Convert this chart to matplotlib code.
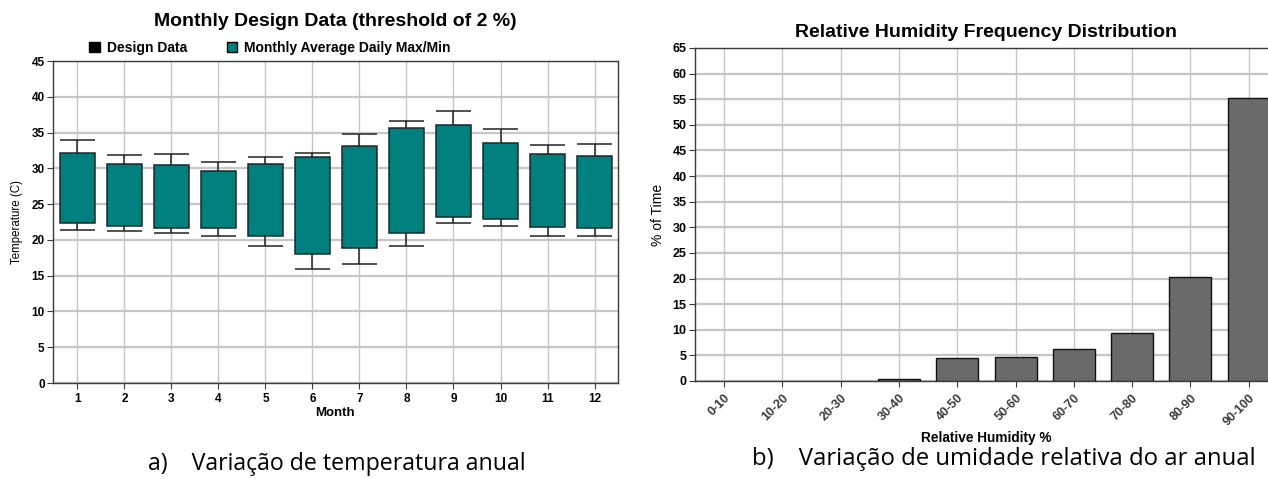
import matplotlib.pyplot as plt
from matplotlib.patches import Patch

plt.rcParams['font.family'] = ['Liberation Sans', 'DejaVu Sans']

# a) monthly temperature
months = [1, 2, 3, 4, 5, 6, 7, 8, 9, 10, 11, 12]
avg_max = [32.1, 30.6, 30.4, 29.6, 30.6, 31.6, 33.1, 35.7, 36.0, 33.5, 32.0, 31.7]
avg_min = [22.4, 22.0, 21.6, 21.7, 20.5, 18.0, 18.85, 21.0, 23.2, 22.95, 21.8, 21.7]
design_max = [33.95, 31.85, 32.0, 30.9, 31.6, 32.1, 34.75, 36.6, 38.0, 35.45, 33.2, 33.35]
design_min = [21.45, 21.2, 20.9, 20.6, 19.2, 15.95, 16.6, 19.1, 22.4, 21.9, 20.6, 20.6]

# b) relative humidity
rh_bins = ['0-10', '10-20', '20-30', '30-40', '40-50', '50-60',
           '60-70', '70-80', '80-90', '90-100']
rh_pct = [0, 0, 0, 0.3, 4.4, 4.7, 6.3, 9.4, 20.3, 55.2]

teal = '#007f7f'
grid_c = '#c6c6c6'
spine_c = '#3a3a3a'

fig = plt.figure(figsize=(12.68, 4.79), dpi=100)

# ---------- left chart
ax = fig.add_axes([0.0418, 0.2004, 0.4456, 0.6722])
heights = [a - b for a, b in zip(avg_max, avg_min)]
ax.set_axisbelow(True)
ax.yaxis.grid(True, color=grid_c, lw=1.6)
ax.xaxis.grid(True, color=grid_c, lw=1.0)
ax.vlines(months, avg_max, design_max, color='#222222', lw=1.1, zorder=2)
ax.vlines(months, design_min, avg_min, color='#222222', lw=1.1, zorder=2)
ax.hlines(design_max, [m - 0.375 for m in months], [m + 0.375 for m in months],
          color='#222222', lw=1.1, zorder=2)
ax.hlines(design_min, [m - 0.375 for m in months], [m + 0.375 for m in months],
          color='#222222', lw=1.1, zorder=2)
ax.bar(months, heights, bottom=avg_min, width=0.75, color=teal,
       edgecolor='#1a2a2a', lw=1.1, zorder=3)
ax.set_xlim(0.48, 12.5)
ax.set_ylim(0, 45)
ax.set_yticks(range(0, 46, 5))
ax.set_xticks(months)
ax.tick_params(axis='y', labelsize=8.5, length=4, color=spine_c, pad=2)
ax.tick_params(axis='x', labelsize=8.5, length=4, color=spine_c, pad=3)
for lb in ax.get_xticklabels() + ax.get_yticklabels():
    lb.set_fontweight('bold')
for s in ax.spines.values():
    s.set_color(spine_c)
    s.set_linewidth(1.0)
ax.set_xlabel('Month', fontsize=9.5, fontweight='bold', va='center')
ax.xaxis.set_label_coords(0.499, -0.093)
ax.set_ylabel('Temperature (C)', fontsize=8.3, va='center')
ax.yaxis.set_label_coords(-0.064, 0.5)
ax.text(0.499, 1.124, 'Monthly Design Data (threshold of 2 %)', transform=ax.transAxes,
        ha='center', va='center', fontsize=14, fontweight='bold')
handles = [Patch(facecolor='black', edgecolor='black', label='Design Data'),
           Patch(facecolor=teal, edgecolor='black', label='Monthly Average Daily Max/Min')]
ax.legend(handles=handles, loc='center left', bbox_to_anchor=(0.064, 1.040),
          ncol=2, frameon=False, handlelength=0.75, handleheight=0.75,
          handletextpad=0.5, columnspacing=2.9, borderaxespad=0, borderpad=0,
          prop={'size': 10, 'weight': 'bold'})

# ---------- right chart
ax2 = fig.add_axes([0.548, 0.2046, 0.4598, 0.6952])
xpos = list(range(len(rh_bins)))
ax2.set_axisbelow(True)
ax2.yaxis.grid(True, color=grid_c, lw=1.6)
ax2.xaxis.grid(True, color=grid_c, lw=1.0)
ax2.bar(xpos, rh_pct, width=0.72, color='#6a6a6a', edgecolor='#111111',
        lw=[1.0 if v > 0 else 0 for v in rh_pct], zorder=3)
ax2.set_xlim(-0.5, 9.5)
ax2.set_ylim(0, 65)
ax2.set_yticks(range(0, 66, 5))
ax2.set_xticks(xpos)
ax2.set_xticklabels(rh_bins, rotation=45, ha='right', rotation_mode='anchor',
                    fontsize=9, fontweight='bold', color='#3a3a3a')
ax2.tick_params(axis='y', labelsize=9, length=4, color=spine_c, pad=2)
ax2.tick_params(axis='x', length=4, color=spine_c, pad=4)
for lb in ax2.get_yticklabels():
    lb.set_fontweight('bold')
for s in ax2.spines.values():
    s.set_color(spine_c)
    s.set_linewidth(1.0)
ax2.set_xlabel('Relative Humidity %', fontsize=9.8, fontweight='bold', va='center')
ax2.xaxis.set_label_coords(0.5, -0.171)
ax2.set_ylabel('% of Time', fontsize=10, va='center')
ax2.yaxis.set_label_coords(-0.063, 0.5)
ax2.text(0.5, 1.048, 'Relative Humidity Frequency Distribution', transform=ax2.transAxes,
         ha='center', va='center', fontsize=14, fontweight='bold')

# captions
fig.text(0.1167, 0.0188, 'a)    Variação de temperatura anual', fontsize=16.7,
         family=['Open Sans', 'DejaVu Sans'], va='baseline')
fig.text(0.593, 0.0292, 'b)    Variação de umidade relativa do ar anual', fontsize=17.2,
         family=['Open Sans', 'DejaVu Sans'], va='baseline')

fig.savefig('out.png', dpi=100)
